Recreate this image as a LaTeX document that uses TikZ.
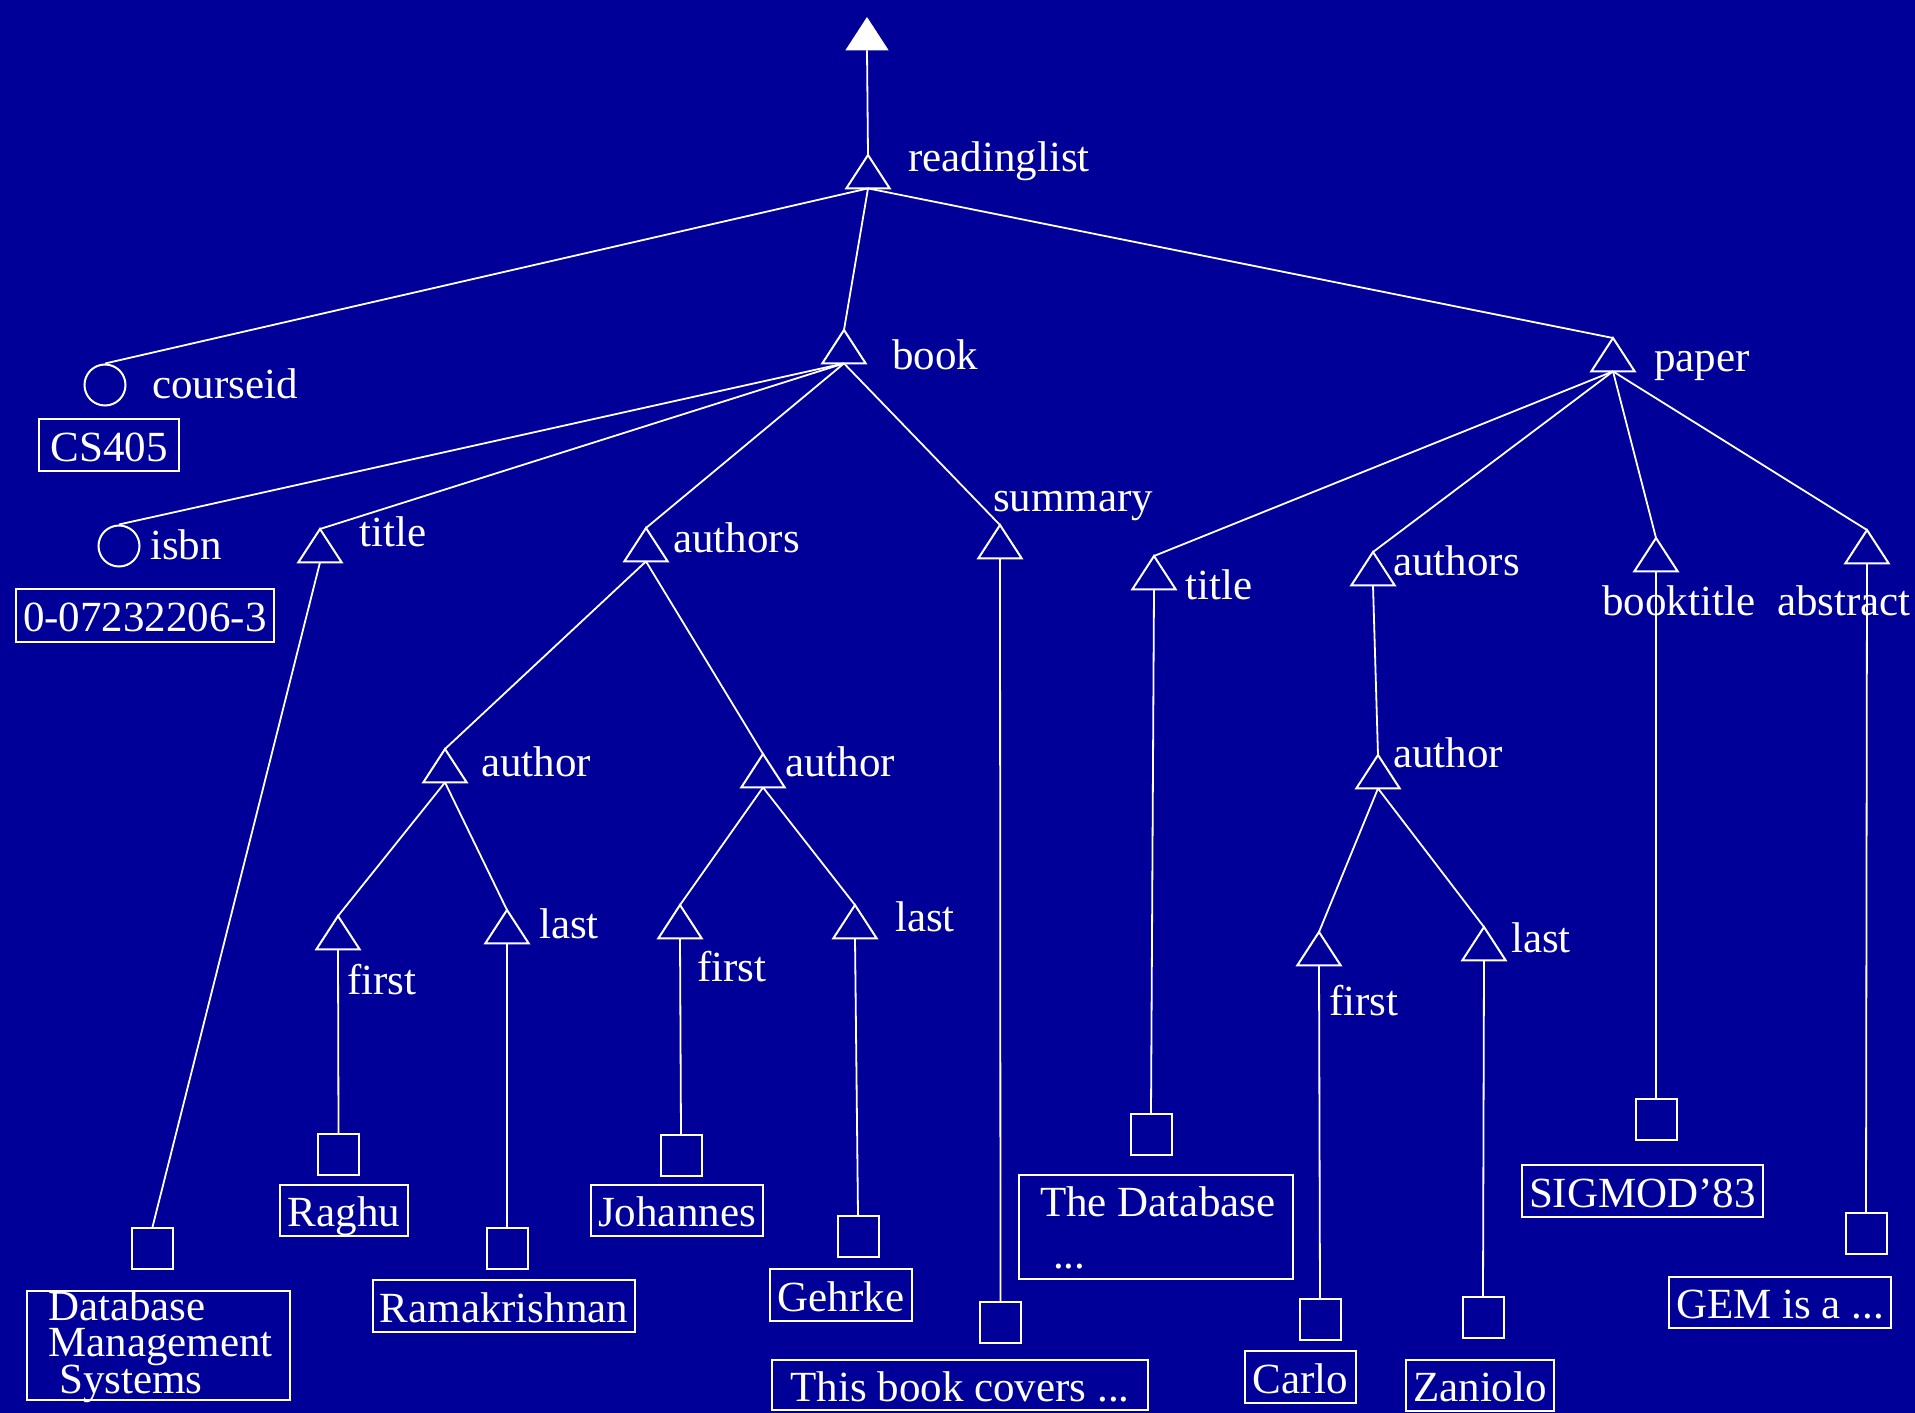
\documentclass[tikz,border=0pt]{standalone}
\usepackage{fontspec}
\setmainfont{Liberation Serif}
\definecolor{slide}{RGB}{0,0,153}
\begin{document}
\begin{tikzpicture}[x=1pt,y=-1pt,
  every node/.style={text=white, font=\fontsize{43}{48}\selectfont},
  tri/.style={minimum width=43pt, minimum height=33pt, inner sep=0pt, anchor=north},
  leaf/.style={draw=white, line width=2pt, minimum width=41pt, minimum height=41pt, inner sep=0pt, anchor=north},
  attr/.style={draw=white, line width=2pt, circle, minimum size=41pt, inner sep=0pt},
  valbox/.style={draw=white, line width=2pt, inner sep=0pt, text height=41pt, text depth=9pt},
  lbl/.style={anchor=base west, inner sep=0pt},
  link/.style={draw=white, line width=1.8pt},
  shape line/.style={draw=white, line width=2pt, line join=miter},
]
\useasboundingbox (0,0) rectangle (1915,1413);
\fill[slide] (0,0) rectangle (1915,1413);

% element nodes (triangles, apex at the given point)
\node[tri] (root) at (867,17) {};
\node[tri] (rl) at (868,155) {};
\node[tri] (book) at (844,330) {};
\node[tri] (paper) at (1613,338) {};
\node[tri] (btitle) at (320,529) {};
\node[tri] (bauthors) at (646,528) {};
\node[tri] (summary) at (1000,525) {};
\node[tri] (auth1) at (445,749) {};
\node[tri] (auth2) at (763,754) {};
\node[tri] (first1) at (338,916) {};
\node[tri] (last1) at (507,910) {};
\node[tri] (first2) at (680,905) {};
\node[tri] (last2) at (855,905) {};
\node[tri] (ptitle) at (1154,556) {};
\node[tri] (pauthors) at (1373,552) {};
\node[tri] (auth3) at (1378,755) {};
\node[tri] (first3) at (1319,932) {};
\node[tri] (last3) at (1484,927) {};
\node[tri] (booktitle) at (1656,538) {};
\node[tri] (abstract) at (1867,530) {};

\fill[white] (root.south west) -- (root.north) -- (root.south east) -- cycle;
\foreach \n in {rl,book,paper,btitle,bauthors,summary,auth1,auth2,first1,last1,
                first2,last2,ptitle,pauthors,auth3,first3,last3,booktitle,abstract}
  \draw[shape line] (\n.south west) -- (\n.north) -- (\n.south east) -- cycle;

% attribute nodes
\node[attr] (courseid) at (105,385) {};
\node[attr] (isbn) at (119,546) {};

% text leaves
\node[leaf] (dbmsleaf) at (152.5,1227) {};
\node[leaf] (raghuleaf) at (338.5,1133) {};
\node[leaf] (ramaleaf) at (507,1227) {};
\node[leaf] (johleaf) at (681,1134) {};
\node[leaf] (gehleaf) at (858,1215) {};
\node[leaf] (sumleaf) at (1000.5,1301) {};
\node[leaf] (ptitleleaf) at (1151,1113) {};
\node[leaf] (carloleaf) at (1320,1298) {};
\node[leaf] (zanleaf) at (1483,1296) {};
\node[leaf] (sigleaf) at (1656,1098) {};
\node[leaf] (gemleaf) at (1866,1212) {};

% connectors
\draw[link] (root.south) -- (rl.north);
\foreach \c in {courseid,book,paper} \draw[link] (rl.south) -- (\c.north);
\foreach \c in {isbn,btitle,bauthors,summary} \draw[link] (book.south) -- (\c.north);
\draw[link] (btitle.south) -- (dbmsleaf.north);
\foreach \c in {auth1,auth2} \draw[link] (bauthors.south) -- (\c.north);
\foreach \c in {first1,last1} \draw[link] (auth1.south) -- (\c.north);
\foreach \c in {first2,last2} \draw[link] (auth2.south) -- (\c.north);
\draw[link] (first1.south) -- (raghuleaf.north);
\draw[link] (last1.south) -- (ramaleaf.north);
\draw[link] (first2.south) -- (johleaf.north);
\draw[link] (last2.south) -- (gehleaf.north);
\draw[link] (summary.south) -- (sumleaf.north);
\foreach \c in {ptitle,pauthors,booktitle,abstract} \draw[link] (paper.south) -- (\c.north);
\draw[link] (ptitle.south) -- (ptitleleaf.north);
\draw[link] (pauthors.south) -- (auth3.north);
\foreach \c in {first3,last3} \draw[link] (auth3.south) -- (\c.north);
\draw[link] (first3.south) -- (carloleaf.north);
\draw[link] (last3.south) -- (zanleaf.north);
\draw[link] (booktitle.south) -- (sigleaf.north);
\draw[link] (abstract.south) -- (gemleaf.north);

% tag names
\node[lbl] (lrl) at (908,171) {readinglist};
\node[lbl] (lbook) at (892,369) {book};
\node[lbl] (lpaper) at (1654,371) {paper};
\node[lbl] (lcourseid) at (152,398) {courseid};
\node[lbl] (lisbn) at (150,559) {isbn};
\node[lbl] (lbtitle) at (359,546) {title};
\node[lbl] (lbauthors) at (673,552) {authors};
\node[lbl] (lsummary) at (993,511) {summary};
\node[lbl] (lauth1) at (481,776) {author};
\node[lbl] (lauth2) at (785,776) {author};
\node[lbl] (lfirst1) at (347,994) {first};
\node[lbl] (llast1) at (539,938) {last};
\node[lbl] (lfirst2) at (697,981) {first};
\node[lbl] (llast2) at (895,931) {last};
\node[lbl] (lptitle) at (1185,599) {title};
\node[lbl] (lpauthors) at (1393,575) {authors};
\node[lbl] (lauth3) at (1393,767) {author};
\node[lbl] (lfirst3) at (1329,1015) {first};
\node[lbl] (llast3) at (1511,952) {last};
\node[lbl] (lbooktitle) at (1602,615) {booktitle};
\node[lbl] (labstract) at (1777,615) {abstract};

% values
\node[valbox, minimum width=140pt, minimum height=52pt] (csv) at (109,445) {CS405};
\node[valbox, minimum width=258pt, minimum height=53pt] (isbnv) at (145,615.5) {0-07232206-3};
\node[valbox, minimum width=128pt, minimum height=51pt] (raghuv) at (344,1210.5) {Raghu};
\node[valbox, minimum width=262pt, minimum height=52pt] (ramav) at (504,1306) {Ramakrishnan};
\node[valbox, minimum width=172pt, minimum height=51pt] (johv) at (677,1210.5) {Johannes};
\node[valbox, minimum width=142pt, minimum height=52pt] (gehv) at (841,1295) {Gehrke};
\node[valbox, minimum width=376pt, minimum height=50pt] (sumv) at (960,1385) {This book covers ...};
\node[valbox, minimum width=111pt, minimum height=52pt] (carlov) at (1300.5,1377) {Carlo};
\node[valbox, minimum width=148pt, minimum height=51pt] (zanv) at (1480,1385.5) {Zaniolo};
\node[valbox, minimum width=241pt, minimum height=52pt] (sigv) at (1642.5,1191) {SIGMOD’83};
\node[valbox, minimum width=222pt, minimum height=51pt] (gemv) at (1780,1302.5) {GEM is a ...};

% multi-line values: tightly set lines, first baseline at the node's base
\node[draw=white, line width=2pt, inner sep=0pt, minimum width=263pt, minimum height=109pt] (dbmsv) at (158.5,1345.5) {};
\node[lbl] (dbmstext) at (48,1320)
  {\vtop{\baselineskip=36.5pt\lineskiplimit=-100pt
   \hbox{Database}\hbox{Management}\hbox{\hspace{11pt}Systems}}};

\node[draw=white, line width=2pt, inner sep=0pt, minimum width=274pt, minimum height=104pt] (ptitlev) at (1156,1227) {};
\node[lbl] (ptitle1) at (1040,1216) {The Database};
\node[lbl] (ptitle2) at (1053,1268) {...};
\end{tikzpicture}
\end{document}
